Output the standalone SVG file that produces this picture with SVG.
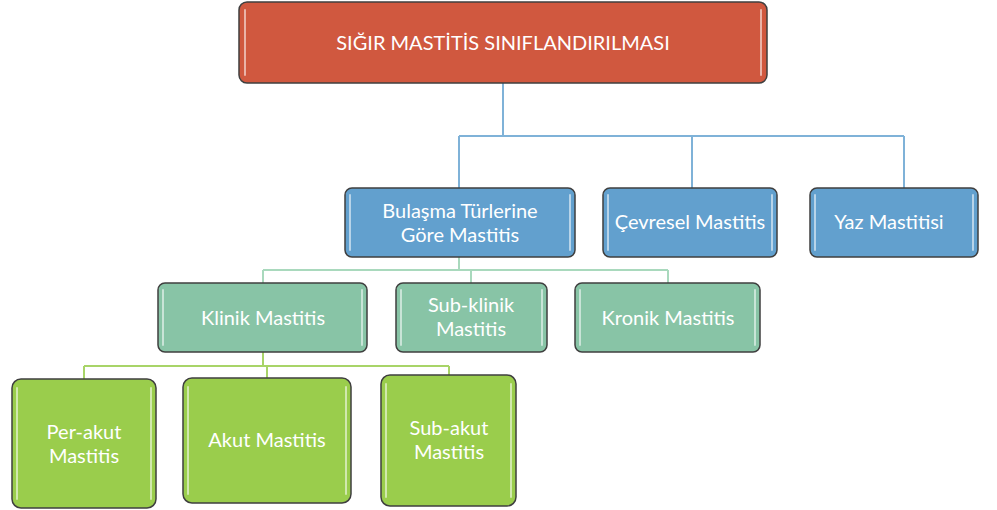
<svg xmlns="http://www.w3.org/2000/svg" width="997" height="510" viewBox="0 0 997 510">
<style>
.box{stroke:#3f3f3f;stroke-width:1.5}
.red{fill:#D0583F}
.blue{fill:#62A0CE}
.teal{fill:#88C4A6}
.lime{fill:#9ACD4C}
.gl{stroke:#ffffff;stroke-width:2;stroke-opacity:0.55;stroke-linecap:round}
.t{font-family:Lato,"Open Sans","Liberation Sans",sans-serif;font-size:20px;fill:#ffffff;text-anchor:middle}
.c1{stroke:#7FB2D8;stroke-width:2;fill:none}
.c2{stroke:#A9D9BD;stroke-width:2;fill:none}
.c3{stroke:#A8D468;stroke-width:2;fill:none}
</style>
<rect width="997" height="510" fill="#ffffff"/>
<g id="connectors">
<path class="c1" d="M503 83V136M459 136H904M459 136V188M692 136V188M904 136V188"/>
<path class="c2" d="M459 257V270M263 270H668M263 270V283M471 270V283M668 270V283"/>
<path class="c3" d="M263 352V366M84 366H449M84 366V379M267 366V378M449 366V375"/>
</g>
<g id="root">
<rect class="box red" x="239" y="2" width="528" height="81" rx="8"/>
<path class="gl" d="M245 10V75M761 10V75"/>
<text class="t" x="503" y="50">SIĞIR MASTİTİS SINIFLANDIRILMASI</text>
</g>
<g id="bulasma">
<rect class="box blue" x="345" y="188" width="230" height="69" rx="7"/>
<path class="gl" d="M350 195V250M570 195V250"/>
<text class="t" x="460" y="218">Bulaşma Türlerine</text>
<text class="t" x="460" y="242">Göre Mastitis</text>
</g>
<g id="cevresel">
<rect class="box blue" x="603" y="188" width="174" height="69" rx="7"/>
<path class="gl" d="M608 195V250M772 195V250"/>
<text class="t" x="690" y="229">Çevresel Mastitis</text>
</g>
<g id="yaz">
<rect class="box blue" x="810" y="188" width="168" height="69" rx="7"/>
<path class="gl" d="M815 195V250M973 195V250"/>
<text class="t" x="889" y="229">Yaz Mastitisi</text>
</g>
<g id="klinik">
<rect class="box teal" x="158" y="283" width="209" height="69" rx="7"/>
<path class="gl" d="M163 290V345M362 290V345"/>
<text class="t" x="263" y="325">Klinik Mastitis</text>
</g>
<g id="subklinik">
<rect class="box teal" x="396" y="283" width="151" height="69" rx="7"/>
<path class="gl" d="M401 290V345M542 290V345"/>
<text class="t" x="471" y="312">Sub-klinik</text>
<text class="t" x="471" y="336">Mastitis</text>
</g>
<g id="kronik">
<rect class="box teal" x="575" y="283" width="185" height="69" rx="7"/>
<path class="gl" d="M580 290V345M755 290V345"/>
<text class="t" x="668" y="325">Kronik Mastitis</text>
</g>
<g id="perakut">
<rect class="box lime" x="12" y="379" width="144" height="129" rx="9"/>
<path class="gl" d="M17 388V499M151 388V499"/>
<text class="t" x="84" y="439">Per-akut</text>
<text class="t" x="84" y="463">Mastitis</text>
</g>
<g id="akut">
<rect class="box lime" x="183" y="378" width="168" height="125" rx="9"/>
<path class="gl" d="M188 387V494M346 387V494"/>
<text class="t" x="267" y="447">Akut Mastitis</text>
</g>
<g id="subakut">
<rect class="box lime" x="381" y="375" width="135" height="131" rx="9"/>
<path class="gl" d="M386 384V497M511 384V497"/>
<text class="t" x="449" y="435">Sub-akut</text>
<text class="t" x="449" y="459">Mastitis</text>
</g>
</svg>
